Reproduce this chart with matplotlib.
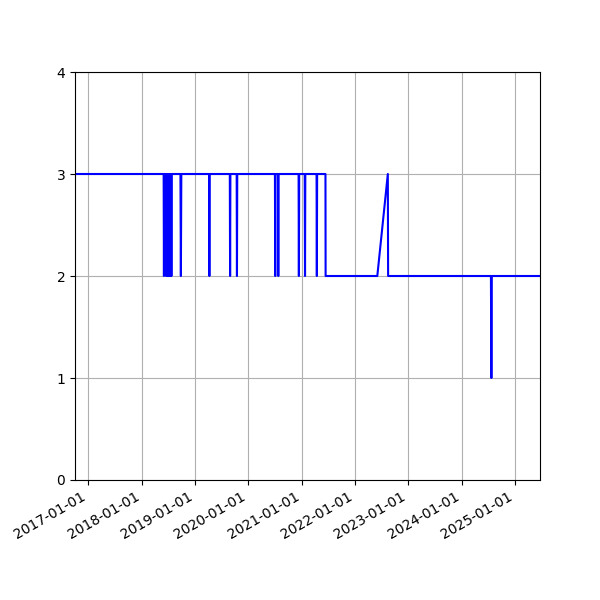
import matplotlib
matplotlib.use("Agg")
import matplotlib.pyplot as plt
import matplotlib.dates as mdates
import pandas as pd

dates = [
    "2016-10-02", "2018-06-01", "2018-06-03", "2018-06-05",
    "2018-06-16", "2018-06-18", "2018-06-21", "2018-06-24", "2018-06-27",
    "2018-06-30", "2018-07-03", "2018-07-06", "2018-07-09", "2018-07-12",
    "2018-07-15", "2018-07-18", "2018-07-21", "2018-07-24", "2018-07-27",
    "2018-09-24", "2018-09-27", "2018-09-30",
    "2019-04-08", "2019-04-10", "2019-04-12",
    "2019-08-28", "2019-08-30", "2019-09-01",
    "2019-10-14", "2019-10-16", "2019-10-18",
    "2020-07-02", "2020-07-04", "2020-07-06",
    "2020-07-23", "2020-07-25", "2020-07-27",
    "2020-12-11", "2020-12-13", "2020-12-15",
    "2021-01-22", "2021-01-24", "2021-01-26",
    "2021-04-13", "2021-04-15", "2021-04-17",
    "2021-06-13", "2021-06-14",
    "2022-06-03", "2022-08-14", "2022-08-16",
    "2024-07-20", "2024-07-23", "2024-07-26",
    "2025-06-21",
]
values = [
    3, 3, 2, 3,
    3, 2, 3, 2, 3,
    2, 3, 2, 3, 2,
    3, 2, 3, 2, 3,
    3, 2, 3,
    3, 2, 3,
    3, 2, 3,
    3, 2, 3,
    3, 2, 3,
    3, 2, 3,
    3, 2, 3,
    3, 2, 3,
    3, 2, 3,
    3, 2,
    2, 3, 2,
    2, 1, 2,
    2,
]

x = pd.to_datetime(dates)

fig, ax = plt.subplots(figsize=(6, 6), dpi=100)
ax.plot(x, values, color="blue", linewidth=1.5)
ax.set_ylim(0, 4)
ax.set_yticks([0, 1, 2, 3, 4])
ax.set_xlim(x.min(), x.max())
ax.xaxis.set_major_locator(mdates.YearLocator())
ax.xaxis.set_major_formatter(mdates.DateFormatter("%Y-%m-%d"))
ax.grid(True)
fig.autofmt_xdate()
fig.savefig("out.png", dpi=100)
